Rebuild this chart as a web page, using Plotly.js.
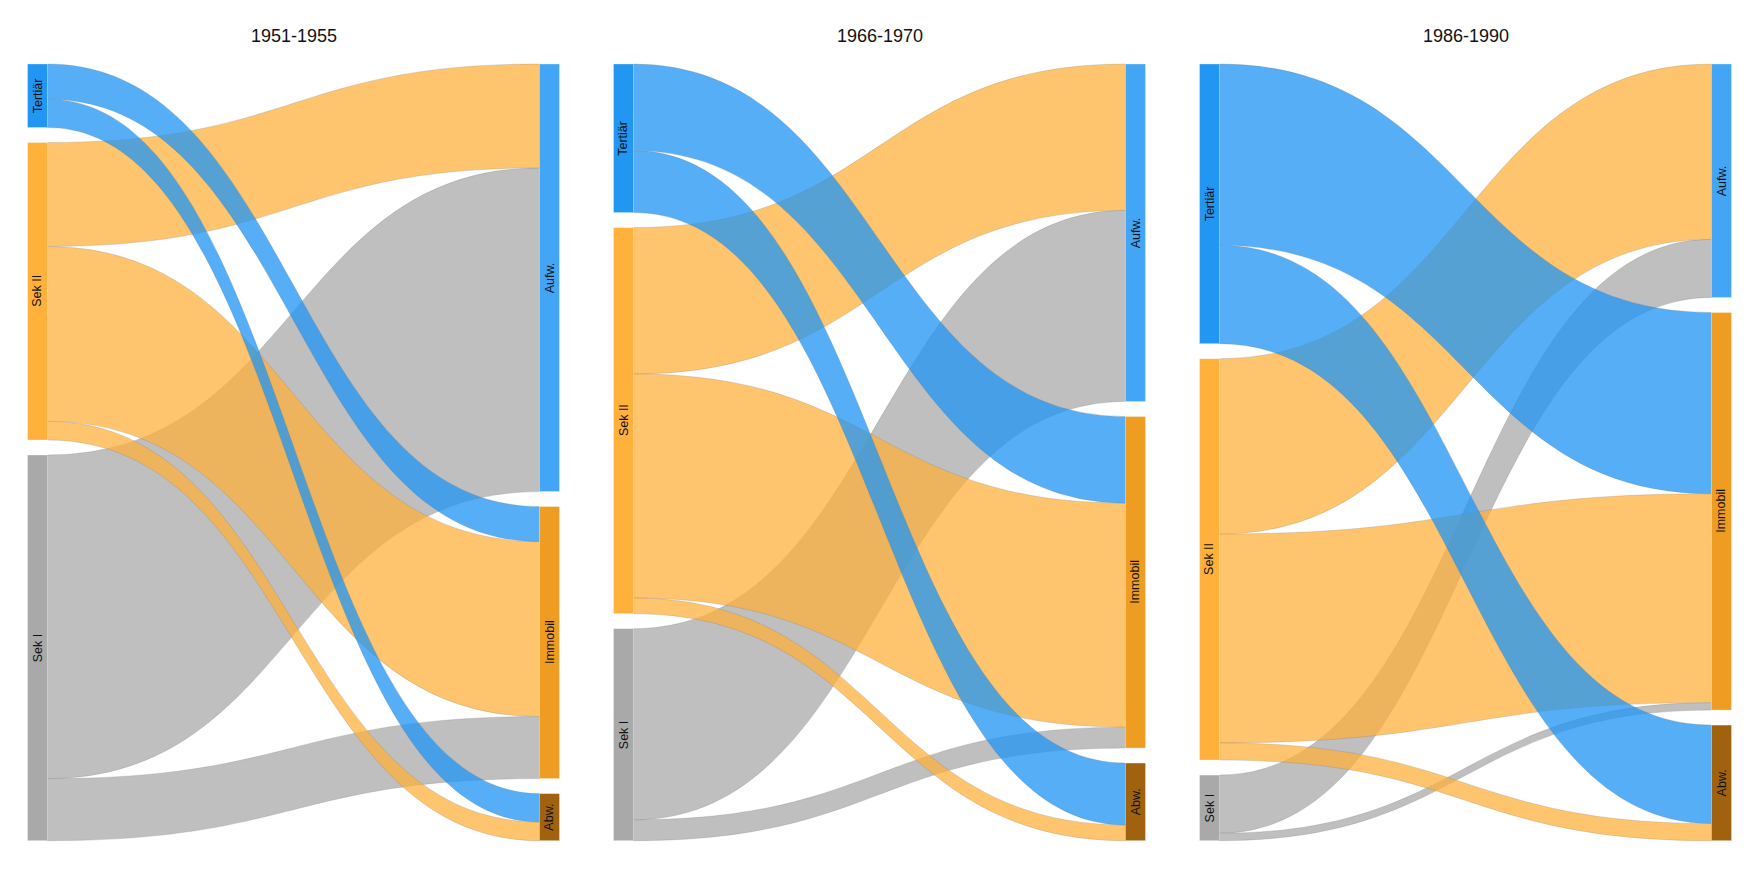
<!DOCTYPE html>
<html><head><meta charset="utf-8">
<script src="https://cdn.plot.ly/plotly-3.0.1.min.js"></script>
<style>html,body{margin:0;padding:0;background:#fff}#chart{width:1759px;height:879px}</style>
</head><body><div id="chart"></div>
<script>
// ---- data ----
const panelTitles = ["1951-1955", "1966-1970", "1986-1990"];
const sourceLabels = ["Tertiär", "Sek II", "Sek I"];
const targetLabels = ["Aufw.", "Immobil", "Abw."];
// links listed Sek I first, then Sek II, then Tertiär (drawing order)
const linkSources = [2, 2, 1, 1, 1, 0, 0];
const linkTargets = [0, 1, 0, 1, 2, 1, 2];
const values1951 = [43.3, 8.3, 13.9, 23.4, 2.5, 4.7, 3.8];
const values1966 = [25.6, 2.8, 19.6, 30.0, 2.1, 11.6, 8.3];
const values1986 = [7.8, 1.0, 23.5, 28.0, 2.3, 24.3, 13.2];
const panelValues = [values1951, values1966, values1986];

// ---- styles ----
const sourceColors = ["#2196F3", "#FFB13B", "#A9A9A9"];
const targetColors = ["#42A5F5", "#EE9D22", "#A0620E"];
const linkColors = ["rgba(33,150,243,0.76)", "rgba(255,177,59,0.74)", "rgba(169,169,169,0.75)"];

// ---- layout constants (px) ----
const W = 1759, H = 879;
const panelLeft = [27.5, 613.5, 1199.5];
const panelWidth = 532;
const topPx = 64, bottomPx = 840.7;
const thickness = 20, pad = 15;
const fontFam = "Liberation Sans, Arial, sans-serif";

const traces = [];
const annotations = [];

function columnCenters(totals, ky) {
  const centers = [];
  let cum = 0;
  totals.forEach((t, i) => {
    const y0 = topPx + cum * ky + i * pad;
    centers.push(y0 + t * ky / 2);
    cum += t;
  });
  return centers;
}

panelValues.forEach((vals, p) => {
  const srcTot = [0, 0, 0], tgtTot = [0, 0, 0];
  vals.forEach((v, k) => { srcTot[linkSources[k]] += v; tgtTot[linkTargets[k]] += v; });
  const total = vals.reduce((a, b) => a + b, 0);
  const hPx = bottomPx - topPx;
  const ky = (hPx - 2 * pad) / total;
  const srcC = columnCenters(srcTot, ky);
  const tgtC = columnCenters(tgtTot, ky);
  const xl = (thickness / 2) / panelWidth, xr = 1 - xl;

  traces.push({
    type: "sankey",
    arrangement: "fixed",
    domain: { x: [panelLeft[p] / W, (panelLeft[p] + panelWidth) / W], y: [(H - bottomPx) / H, (H - topPx) / H] },
    hoverinfo: "none",
    textfont: { color: "rgba(0,0,0,0)", size: 1 },
    node: {
      label: sourceLabels.concat(targetLabels),
      color: sourceColors.concat(targetColors),
      thickness: thickness,
      pad: pad,
      line: { color: "rgba(255,255,255,0.6)", width: 0.5 },
      x: [xl, xl, xl, xr, xr, xr],
      y: srcC.concat(tgtC).map(c => (c - topPx) / hPx),
      hoverinfo: "none"
    },
    link: {
      source: linkSources,
      target: linkTargets.map(t => t + 3),
      value: vals,
      color: linkSources.map(s => linkColors[s]),
      line: { color: "rgba(110,110,110,0.45)", width: 0.5 },
      hoverinfo: "none"
    }
  });

  annotations.push({
    text: panelTitles[p], showarrow: false, xref: "paper", yref: "paper",
    x: (panelLeft[p] + panelWidth / 2) / W, y: 1 - 36 / H, xanchor: "center", yanchor: "middle",
    font: { family: fontFam, size: 18, color: "#111" }
  });
  srcC.forEach((c, i) => annotations.push({
    text: sourceLabels[i], showarrow: false, xref: "paper", yref: "paper", textangle: -90,
    x: (panelLeft[p] + thickness / 2) / W, y: 1 - c / H, xanchor: "center", yanchor: "middle",
    font: { family: fontFam, size: 12.5, color: "#111" }
  }));
  tgtC.forEach((c, i) => annotations.push({
    text: targetLabels[i], showarrow: false, xref: "paper", yref: "paper", textangle: -90,
    x: (panelLeft[p] + panelWidth - thickness / 2) / W, y: 1 - c / H, xanchor: "center", yanchor: "middle",
    font: { family: fontFam, size: 12.5, color: "#111" }
  }));
});

Plotly.newPlot("chart", traces, {
  width: W, height: H,
  margin: { l: 0, r: 0, t: 0, b: 0 },
  paper_bgcolor: "#fff",
  font: { family: fontFam },
  showlegend: false,
  annotations: annotations
}, { displayModeBar: false, staticPlot: true });
</script>
</body></html>
